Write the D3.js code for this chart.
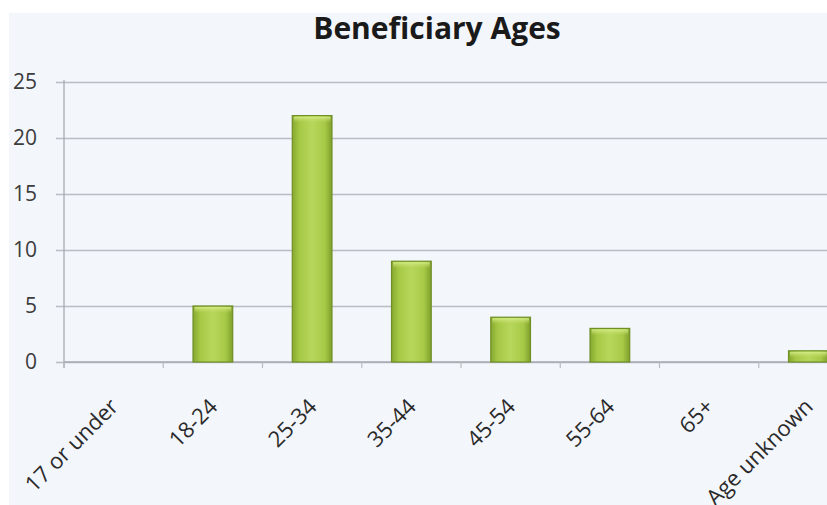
<!DOCTYPE html>
<html>
<head>
<meta charset="utf-8">
<script src="https://cdn.jsdelivr.net/npm/d3@7"></script>
<style>
  html, body { margin: 0; padding: 0; background: #ffffff; overflow: hidden; }
  svg { display: block; }
</style>
</head>
<body>
<svg id="chart" width="827" height="505"></svg>
<script>
// Beneficiary counts by age group
const categories = ["17 or under", "18-24", "25-34", "35-44", "45-54", "55-64", "65+", "Age unknown"];
const counts = [0, 5, 22, 9, 4, 3, 0, 1];
const yTicks = [0, 5, 10, 15, 20, 25];
const chartTitle = "Beneficiary Ages";

const svg = d3.select("#chart");
const W = 827, H = 505;
const font = "'Open Sans', 'DejaVu Sans', sans-serif";

const plot = { left: 64, right: 858, top: 82, bottom: 362 };

// chart area panel
svg.append("rect")
  .attr("x", 9).attr("y", 13)
  .attr("width", W - 9).attr("height", H - 13)
  .attr("fill", "#f3f6fb");

const x = d3.scaleBand()
  .domain(categories)
  .range([plot.left, plot.right])
  .paddingInner(0.6)
  .paddingOuter(0.3);

const y = d3.scaleLinear()
  .domain([0, 25])
  .range([plot.bottom, plot.top]);

// bar gradient: darker edges, lighter centre
const defs = svg.append("defs");
const grad = defs.append("linearGradient").attr("id", "barGrad")
  .attr("x1", "0%").attr("x2", "100%").attr("y1", "0%").attr("y2", "0%");
grad.append("stop").attr("offset", "0%").attr("stop-color", "#86a830");
grad.append("stop").attr("offset", "18%").attr("stop-color", "#a6c845");
grad.append("stop").attr("offset", "50%").attr("stop-color", "#b7d75c");
grad.append("stop").attr("offset", "82%").attr("stop-color", "#a7c947");
grad.append("stop").attr("offset", "100%").attr("stop-color", "#7f9f2b");

const topGrad = defs.append("linearGradient").attr("id", "topGrad")
  .attr("x1", "0%").attr("x2", "0%").attr("y1", "0%").attr("y2", "100%");
topGrad.append("stop").attr("offset", "0%").attr("stop-color", "#d9ee8a").attr("stop-opacity", 0.9);
topGrad.append("stop").attr("offset", "100%").attr("stop-color", "#c0dc66").attr("stop-opacity", 0);

// horizontal gridlines with small left tick marks
const yAxis = d3.axisLeft(y)
  .tickValues(yTicks)
  .tickSize(-(plot.right - plot.left))
  .tickSizeOuter(0)
  .tickPadding(27)
  .tickFormat(d3.format("d"));

const gy = svg.append("g")
  .attr("transform", `translate(${plot.left},0)`)
  .call(yAxis);
gy.select(".domain").remove();
gy.selectAll(".tick line")
  .attr("x1", -8)
  .attr("stroke", "#b9bcc2")
  .attr("stroke-width", 1.3);
gy.selectAll(".tick text")
  .attr("fill", "#3c3c3c")
  .attr("font-family", font)
  .attr("font-size", 21);

// vertical axis line
svg.append("line")
  .attr("x1", plot.left).attr("x2", plot.left)
  .attr("y1", plot.top - 2).attr("y2", plot.bottom + 6)
  .attr("stroke", "#a8abb1").attr("stroke-width", 1.3);

// category axis line with ticks between bands
const xAxisLine = svg.append("g");
xAxisLine.append("line")
  .attr("x1", plot.left).attr("x2", W)
  .attr("y1", plot.bottom).attr("y2", plot.bottom)
  .attr("stroke", "#a8abb1").attr("stroke-width", 1.3);
xAxisLine.selectAll("line.tk")
  .data(categories)
  .join("line")
  .attr("class", "tk")
  .attr("x1", (d, i) => plot.left + i * x.step())
  .attr("x2", (d, i) => plot.left + i * x.step())
  .attr("y1", plot.bottom).attr("y2", plot.bottom + 6)
  .attr("stroke", "#b9bcc2").attr("stroke-width", 1.2);

// bars
const bars = svg.append("g");
const nonZero = categories.map((c, i) => ({ c, v: counts[i] })).filter(d => d.v > 0);
bars.selectAll("rect.bar")
  .data(nonZero)
  .join("rect")
  .attr("class", "bar")
  .attr("x", d => x(d.c))
  .attr("y", d => y(d.v))
  .attr("width", x.bandwidth())
  .attr("height", d => y(0) - y(d.v))
  .attr("fill", "url(#barGrad)")
  .attr("stroke", "#6f8f27")
  .attr("stroke-width", 1.2);
bars.selectAll("rect.hl")
  .data(nonZero)
  .join("rect")
  .attr("class", "hl")
  .attr("x", d => x(d.c) + 1.5)
  .attr("y", d => y(d.v) + 1)
  .attr("width", x.bandwidth() - 3)
  .attr("height", d => Math.min(6, y(0) - y(d.v) - 2))
  .attr("fill", "url(#topGrad)");

// rotated category labels
svg.append("g")
  .selectAll("text")
  .data(categories)
  .join("text")
  .attr("transform", d => `translate(${x(d) + x.bandwidth() / 2 + 6},${plot.bottom + 46}) rotate(-45)`)
  .attr("text-anchor", "end")
  .attr("fill", "#2a2a2a")
  .attr("font-family", font)
  .attr("font-size", 22)
  .text(d => d);

// title
svg.append("text")
  .attr("x", 437).attr("y", 39)
  .attr("text-anchor", "middle")
  .attr("fill", "#1a1a1a")
  .attr("font-family", font)
  .attr("font-weight", "bold")
  .attr("font-size", 30)
  .text(chartTitle);
</script>
</body>
</html>
